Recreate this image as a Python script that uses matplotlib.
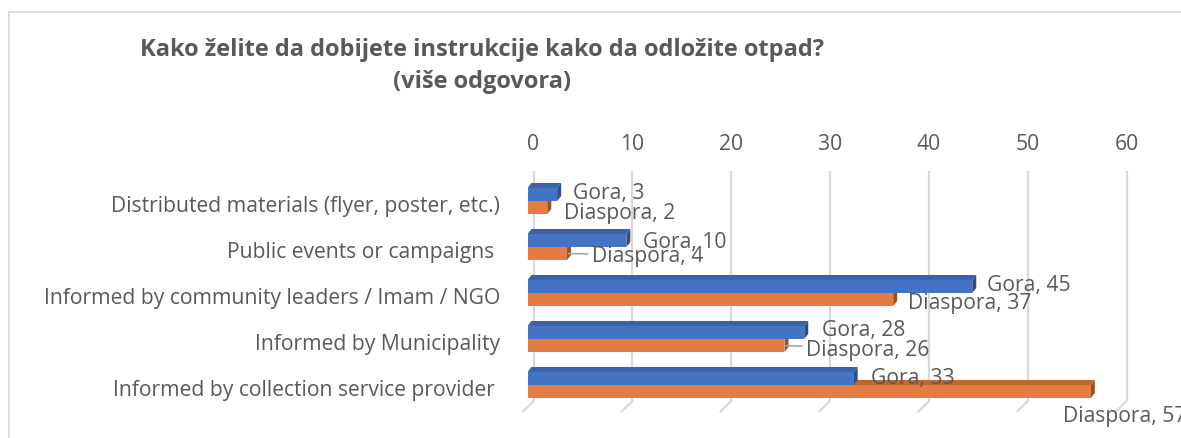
import matplotlib
matplotlib.use("Agg")
import matplotlib.pyplot as plt
from matplotlib.transforms import ScaledTranslation, blended_transform_factory
from matplotlib.patches import Polygon, Rectangle

# ---------------- data ----------------
categories = [
    "Distributed materials (flyer, poster, etc.)",
    "Public events or campaigns ",
    "Informed by community leaders / Imam / NGO",
    "Informed by Municipality",
    "Informed by collection service provider ",
]
series_names = ["Gora", "Diaspora"]
gora = [3, 10, 45, 28, 33]
diaspora = [2, 4, 37, 26, 57]
x_ticks = [0, 10, 20, 30, 40, 50, 60]
title_line1 = "Kako želite da dobijete instrukcije kako da odložite otpad?"
title_line2 = "(više odgovora)"

# ---------------- style ----------------
W, H, DPI = 1181, 439, 100
FONT = ["Open Sans", "DejaVu Sans"]
TXT = "#595959"
GRID = "#D9D9D9"
colors = {
    "Gora": ("#4472C4", "#3B62A8", "#2E4E8A"),        # front, top, side
    "Diaspora": ("#E57D43", "#C2662F", "#9C5220"),
}
LABEL_FS = 15.2
bar_h = 0.283
depth = (4, 5)            # px right, px up
wall = (6, 7)             # back wall offset px
floor_front = (-4.5, -3.5)
# data label placement in pixels: (dx from bar end, dy down from bar centre)
gora_label_off = [(16, -2), (17, 1), (15, -2), (18, -3), (17.5, -1)]
dias_label_off = [(17, 4.5), (25, 1.5), (15, 2.5), (22, 3.5), (-28, 23.5)]
dias_leader = [False, True, False, True, False]

plt.rcParams["font.family"] = FONT

fig = plt.figure(figsize=(W / DPI, H / DPI), dpi=DPI)
fig.patch.set_facecolor("white")

ax_left, ax_right, ax_top, ax_bot = 527.5, 1120.5, 179, 409
ax = fig.add_axes([ax_left / W, 1 - ax_bot / H, (ax_right - ax_left) / W, (ax_bot - ax_top) / H])
ax.set_xlim(0, 60)
n = len(categories)
ax.set_ylim(n - 0.5, -0.5)
ax.axis("off")

# chart frame
fig.add_artist(Rectangle((8.5 / W, -0.2), 1.2, 1 - 12.5 / H + 0.2, transform=fig.transFigure,
                         fill=False, ec=GRID, lw=1.2))

def px(dx, dy):
    return ScaledTranslation(dx / DPI, dy / DPI, fig.dpi_scale_trans)

blend_x = blended_transform_factory(ax.transData, ax.transAxes)

# gridlines on back wall + floor feet
for t in x_ticks:
    ax.plot([t, t], [0, 1], transform=blend_x + px(*wall), color=GRID, lw=1.6,
            clip_on=False, zorder=0, solid_capstyle="butt")
    p0 = (blend_x + px(*wall)).transform((t, 0))
    p1 = (blend_x + px(*floor_front)).transform((t, 0))
    inv = ax.transData.inverted()
    d0, d1 = inv.transform(p0), inv.transform(p1)
    ax.plot([d0[0], d1[0]], [d0[1], d1[1]], color=GRID, lw=1.6, clip_on=False, zorder=0)
    ax.text(t, 1, str(t), transform=blend_x + px(wall[0], 34), ha="center", va="center",
            fontsize=LABEL_FS, color=TXT)

# category labels
blend_y = blended_transform_factory(ax.transAxes, ax.transData)
for k, cat in enumerate(categories):
    ax.text(0, k, cat, transform=blend_y + px(-27.5, -4.5), ha="right", va="center",
            fontsize=LABEL_FS, color=TXT)

def bar3d(v, y_top, y_bot, cols, z):
    front, top, side = cols
    ax.barh([(y_top + y_bot) / 2], [v], height=abs(y_bot - y_top), left=0,
            color=front, zorder=z + 0.2, edgecolor="none")
    T = ax.transData
    inv = T.inverted()
    (x0, yt), (x1, yb) = T.transform((0, y_top)), T.transform((v, y_bot))
    dx, dy = depth
    top_pts = [(x0, yt), (x1, yt), (x1 + dx, yt + dy), (x0 + dx, yt + dy)]
    side_pts = [(x1, yt), (x1, yb), (x1 + dx, yb + dy), (x1 + dx, yt + dy)]
    ax.add_patch(Polygon(inv.transform(top_pts), closed=True, fc=top, ec="none", zorder=z))
    ax.add_patch(Polygon(inv.transform(side_pts), closed=True, fc=side, ec="none", zorder=z + 0.1))

for k in range(n):
    # Diaspora (lower) first, then Gora on top
    bar3d(diaspora[k], k, k + bar_h, colors["Diaspora"], 2)
    bar3d(gora[k], k - bar_h, k, colors["Gora"], 3)

# data labels
for k in range(n):
    for name, vals, offs, yc in (("Gora", gora, gora_label_off, k - bar_h / 2),
                                  ("Diaspora", diaspora, dias_label_off, k + bar_h / 2)):
        dx, dy = offs[k]
        lead = name == "Diaspora" and dias_leader[k]
        kw = {}
        if lead:
            kw["arrowprops"] = dict(arrowstyle="-", color="#A6A6A6", lw=1.2,
                                    shrinkA=1, shrinkB=1)
        ax.annotate(f"{name}, {vals[k]}", xy=(vals[k], yc), xytext=(dx, -dy),
                    textcoords="offset pixels", ha="left", va="center",
                    fontsize=LABEL_FS, color=TXT, zorder=6, annotation_clip=False, **kw)

# title
fig.text(482 / W, 1 - 50 / H, title_line1, ha="center", va="center", fontsize=17,
         fontweight="bold", color=TXT)
fig.text(482 / W, 1 - 82 / H, title_line2, ha="center", va="center", fontsize=17,
         fontweight="bold", color=TXT)

fig.savefig("out.png", dpi=DPI, facecolor="white")
